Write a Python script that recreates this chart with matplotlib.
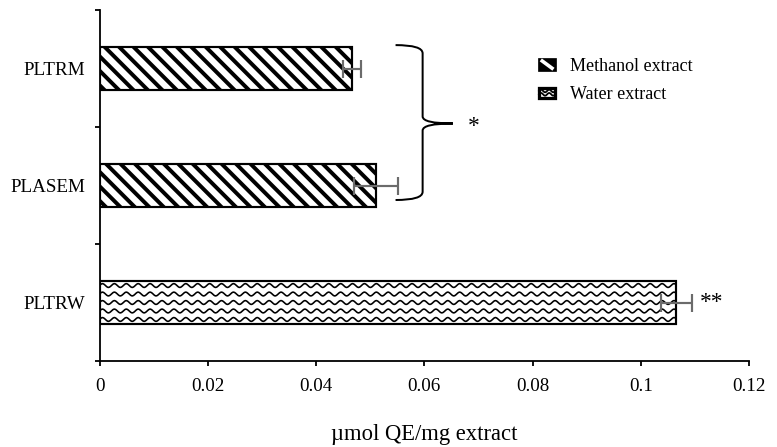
import numpy as np
import matplotlib.pyplot as plt
from matplotlib.path import Path
from matplotlib.patches import PathPatch, Rectangle
from matplotlib.lines import Line2D
from matplotlib.legend_handler import HandlerBase

plt.rcParams.update(
    {
        "font.family": ["Liberation Serif", "DejaVu Serif"],
        "hatch.linewidth": 2.2,
        "hatch.color": "black",
    }
)

labels = ["PLTRW", "PLASEM", "PLTRM"]
values = [0.1066, 0.0511, 0.0467]
errors = [0.0028, 0.0040, 0.0017]
kinds = ["water", "methanol", "methanol"]
xticks = [0, 0.02, 0.04, 0.06, 0.08, 0.1, 0.12]
xtick_labels = ["0", "0.02", "0.04", "0.06", "0.08", "0.1", "0.12"]

DPI = 130
fig = plt.figure(figsize=(777 / DPI, 447 / DPI), dpi=DPI)
ax = fig.add_axes([99.5 / 777, 86 / 447, (749 - 99.5) / 777, 351 / 447])

y = np.arange(len(labels))
bar_h = 0.36

for yi, v, e, k in zip(y, values, errors, kinds):
    hatch = "\\\\\\" if k == "methanol" else None
    bar = ax.barh(yi, v, height=bar_h, color="white", edgecolor="black",
                  linewidth=1.2, hatch=hatch, zorder=2)[0]
    if k == "water":
        # wavy fill pattern, clipped to the bar
        xs = np.linspace(0, v, 1200)
        for row in np.linspace(yi - bar_h / 2 + 0.035, yi + bar_h / 2 - 0.035, 5):
            ys = row + 0.016 * np.sin(2 * np.pi * xs / 0.0022)
            ln, = ax.plot(xs, ys, color="black", lw=0.9, zorder=3)
            ln.set_clip_path(bar)
    ax.errorbar(v, yi, xerr=e, fmt="none", ecolor="#6b6b6b", elinewidth=1.2,
                capsize=5, capthick=1.2, zorder=4)

ax.set_xlim(0, 0.12)
ax.set_ylim(-0.5, 2.5)
ax.set_xticks(xticks)
ax.set_xticklabels(xtick_labels)
ax.set_yticks(y)
ax.set_yticklabels(labels)
ax.set_yticks([-0.5, 0.5, 1.5, 2.5], minor=True)
ax.tick_params(axis="y", which="major", length=0, pad=8, labelsize=10.5)
ax.tick_params(axis="y", which="minor", length=2.8, width=1.0, direction="out")
ax.tick_params(axis="x", length=2.5, width=1.0, direction="out", pad=7, labelsize=10.5)
for s in ["top", "right"]:
    ax.spines[s].set_visible(False)
for s in ["left", "bottom"]:
    ax.spines[s].set_linewidth(1.0)

ax.set_xlabel("\u00b5mol QE/mg extract", fontsize=12.5, labelpad=16)

# curly brace grouping the methanol extracts
x0, xv, xt = 0.0547, 0.0597, 0.0653
ytop, ymid, ybot = 2.20, 1.53, 0.876
verts = [
    (x0, ytop), (xv, ytop), (xv, ytop - 0.07),
    (xv, ymid + 0.06),
    (xv, ymid), (xt, ymid),
    (xv, ymid), (xv, ymid - 0.06),
    (xv, ybot + 0.07),
    (xv, ybot), (x0, ybot),
]
codes = [Path.MOVETO, Path.CURVE3, Path.CURVE3, Path.LINETO,
         Path.CURVE3, Path.CURVE3, Path.CURVE3, Path.CURVE3,
         Path.LINETO, Path.CURVE3, Path.CURVE3]
ax.add_patch(PathPatch(Path(verts, codes), fill=False, lw=1.1,
                       edgecolor="black", clip_on=False))
ax.text(0.0680, 1.50, "*", fontsize=13, ha="left", va="center")
ax.text(0.1110, 0.0, "**", fontsize=13, ha="left", va="center")


class StripeHandler(HandlerBase):
    def create_artists(self, legend, orig, xd, yd, w, h, fontsize, trans):
        r = Rectangle((-xd, -yd), w, h, facecolor="black", edgecolor="black",
                      lw=1.5, transform=trans)
        ln = Line2D([-xd + w * 0.2, -xd + w * 0.8], [-yd + h * 0.85, -yd + h * 0.15],
                    color="white", lw=2.0, transform=trans)
        return [r, ln]


class WaveHandler(HandlerBase):
    def create_artists(self, legend, orig, xd, yd, w, h, fontsize, trans):
        r = Rectangle((-xd, -yd), w, h, facecolor="white", edgecolor="black",
                      lw=1.8, transform=trans)
        xs = np.linspace(-xd, -xd + w, 40)
        arts = [r]
        for k in (0.35, 0.68):
            ys = -yd + h * k + h * 0.13 * np.sin(2 * np.pi * (xs + xd) / (w / 2))
            arts.append(Line2D(xs, ys, color="black", lw=1.0, transform=trans))
        return arts


h_meth = Rectangle((0, 0), 1, 1)
h_water = Rectangle((0, 0), 1, 1)
fig.legend([h_meth, h_water], ["Methanol extract", "Water extract"],
           handler_map={h_meth: StripeHandler(), h_water: WaveHandler()},
           loc="upper left", bbox_to_anchor=(539 / 777, 1 - 58 / 447),
           bbox_transform=fig.transFigure, frameon=False, fontsize=10,
           handlelength=0.9, handleheight=0.5, handletextpad=0.8,
           labelspacing=0.62, borderpad=0, borderaxespad=0)

fig.savefig("out.png", dpi=DPI)
